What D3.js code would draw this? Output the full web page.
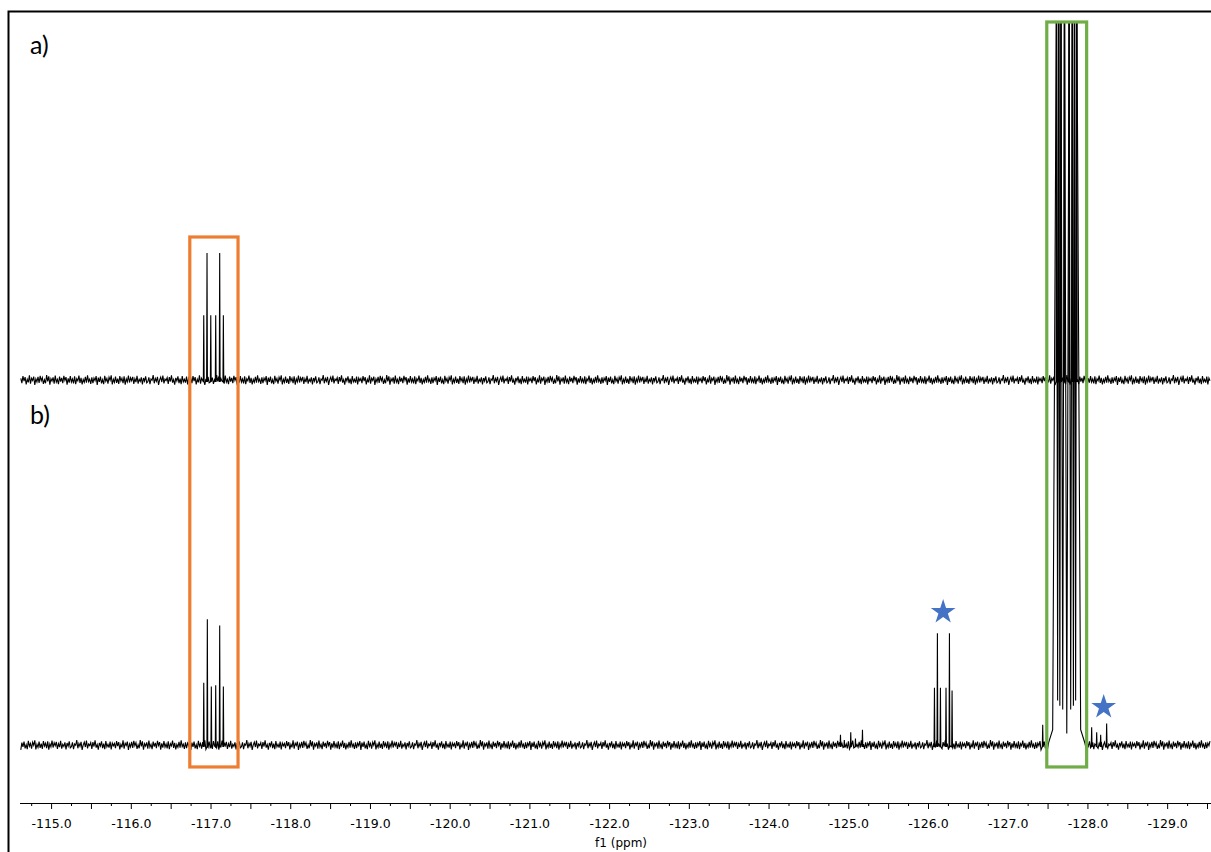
<!DOCTYPE html>
<html lang="en">
  <meta charset="utf-8">
  <style>
    body { margin: 0; background: #fff; }
    svg { display: block; }
  </style>
  <body>
    <svg width="1211" height="852"></svg>

    <script src="https://d3js.org/d3.v7.min.js"></script>
    <script>
    // 19F spectra, ppm axis
    const majorTicks = [-115, -116, -117, -118, -119, -120, -121, -122, -123, -124, -125, -126, -127, -128, -129]

    // trace a) peaks [ppm, intensity]
    const peaksA = [
      [-116.915, 51], [-116.956, 100], [-117.003, 51], [-117.065, 51], [-117.115, 100], [-117.161, 51],
      [-127.612, 600], [-127.640, 600], [-127.668, 600], [-127.712, 600],
      [-127.770, 600], [-127.810, 600], [-127.838, 600], [-127.866, 600]
    ]
    // trace b) peaks
    const peaksB = [
      [-116.915, 49], [-116.960, 99], [-117.010, 46], [-117.065, 47], [-117.115, 94], [-117.161, 46],
      [-124.902, 8], [-124.95, 4], [-125.031, 10], [-125.09, 5], [-125.178, 12],
      [-126.081, 45], [-126.118, 88], [-126.156, 45], [-126.226, 45], [-126.269, 88], [-126.302, 43],
      [-127.439, 16],
      [-128.053, 14], [-128.116, 10], [-128.166, 8], [-128.241, 17]
    ]
    // broad multiplet in b) (lines + the raised ground between them)
    const multipletB = [
      [-127.514, 2], [-127.564, 12], [-127.612, 600], [-127.626, 35], [-127.640, 600], [-127.654, 31],
      [-127.668, 600], [-127.690, 28], [-127.712, 600], [-127.741, 9], [-127.770, 600], [-127.790, 28],
      [-127.810, 600], [-127.824, 31], [-127.838, 600], [-127.852, 35], [-127.866, 600],
      [-127.915, 12], [-127.966, 2]
    ]
    // baseline noise
    const noise = [1.2,-2.5,3.1,-0.8,2.2,-3.4,0.6,-1.9,3.6,-2.8,1.4,-0.3,2.7,-3.9,0.9,-1.5,2.4,-2.2,3.3,-0.6,
      1.8,-3.1,0.2,-2.6,3.8,-1.1,2.9,-3.6,1.1,-0.9,2.1,-2.9,3.5,-1.7,0.5,-3.3,2.6,-1.3,1.6,-2.4,
      3.2,-0.4,2.3,-3.7,1.3,-2.0,3.0,-1.6,0.8,-2.7,2.8,-3.2,1.0,-0.7,3.4,-2.3,1.7,-3.5,0.4,-1.8,
      2.5,-2.1,3.7,-1.2,0.7,-3.0,2.0,-2.5,1.5,-0.5,3.1,-3.8,1.9,-1.4,2.6,-2.6,0.3,-3.3,3.3,-1.0,
      1.2,-2.8,2.2,-0.2,3.6,-3.4,0.6,-1.9,2.7,-2.2,1.1,-3.1,3.0,-0.8,1.4,-2.4,2.9,-3.6,0.9,-1.5,
      3.5,-2.0,1.8,-0.6,2.4,-3.0,1.0,-1.7,3.2,-2.9,0.5,-1.1,2.1,-3.5,1.6,-0.9,2.8,-2.3,
      -1.4,2.0,-3.2,0.8,-0.2,3.9,-2.6,1.3,-1.0,2.5,-3.9,0.1,2.3,-1.6,3.4,-2.7,0.7,-0.4,1.9,-3.0,
      2.2,-1.2,3.6,-2.1,0.4,-3.6,1.7,-0.8,2.9,-2.4,1.0,-3.3,3.0,-1.5,0.6,-2.0,2.6,-3.4,1.5,-0.6]

    // highlight boxes: ppm range, top (trace a units), bottom (trace b units)
    const boxes = [
      { from: -116.74, to: -117.345, top: 112.6, bottom: -17.3, color: '#ED7D31' },
      { from: -127.49, to: -127.99, top: 281.9, bottom: -17.3, color: '#70AD47' }
    ]
    // stars in b): [ppm, intensity]
    const stars = [[-126.19, 105.5], [-128.204, 30.7]]

    let svg = d3.select('svg')

    let x = d3.scaleLinear()
              .domain([-114.61, -129.55])
              .range([20, 1211])
    let yA = d3.scaleLinear().domain([0, 100]).range([380, 253])
    let yB = d3.scaleLinear().domain([0, 100]).range([745, 618])

    // frame
    svg.append('path')
       .attr('d', 'M8.5,852V11.5H1211')
       .attr('fill', 'none')
       .attr('stroke', '#000')
       .attr('stroke-width', 2)

    svg.append('defs').append('clipPath').attr('id', 'plot')
       .append('rect').attr('x', 20).attr('y', 23).attr('width', 1191).attr('height', 777)

    // build a trace from noise + spikes
    function trace(peaks, extra, offset) {
      let pts = []
      let skip = peaks.concat(extra)
      for (let i = 0; ; i++) {
        let p = -114.62 - i * 0.0135
        if (p < -129.55) break
        if (skip.some(d => Math.abs(d[0] - p) < 0.008)) continue
        if (extra.length && p < extra[0][0] && p > extra[extra.length - 1][0]) continue
        pts.push([p, noise[(i + offset) % noise.length]])
      }
      peaks.forEach(d => {
        pts.push([d[0] + 0.005, -1.5], [d[0], d[1]], [d[0] - 0.005, -1.5])
      })
      extra.forEach(d => pts.push(d))
      return pts.sort((a, b) => b[0] - a[0])
    }

    let dataA = trace(peaksA, [], 0)
    let dataB = trace(peaksB, multipletB, 71)

    let g = svg.append('g').attr('clip-path', 'url(#plot)')
    g.append('path')
       .datum(dataA)
       .attr('d', d3.line().x(d => x(d[0])).y(d => yA(d[1])))
       .attr('fill', 'none').attr('stroke', '#000').attr('stroke-width', 1.1)
    g.append('path')
       .datum(dataB)
       .attr('d', d3.line().x(d => x(d[0])).y(d => yB(d[1])))
       .attr('fill', 'none').attr('stroke', '#000').attr('stroke-width', 1.1)

    // boxes
    svg.append('g').selectAll('rect')
       .data(boxes).enter()
       .append('rect')
       .attr('x', d => x(d.from))
       .attr('y', d => yA(d.top))
       .attr('width', d => x(d.to) - x(d.from))
       .attr('height', d => yB(d.bottom) - yA(d.top))
       .attr('fill', 'none')
       .attr('stroke', d => d.color)
       .attr('stroke-width', 3.2)

    // stars
    svg.append('g').selectAll('path')
       .data(stars).enter()
       .append('path')
       .attr('d', d3.symbol().type(d3.symbolStar).size(190))
       .attr('transform', d => `translate(${x(d[0])},${yB(d[1]) + 1})`)
       .attr('fill', '#4472C4')

    // panel labels
    svg.append('text').attr('x', 30).attr('y', 54).text('a)')
       .attr('font-family', 'Lato, "Open Sans", sans-serif').attr('font-size', 25)
    svg.append('text').attr('x', 30).attr('y', 424).text('b)')
       .attr('font-family', 'Lato, "Open Sans", sans-serif').attr('font-size', 25)

    // axis: minor ticks every 0.25, longer every 0.5, labels every 1
    let minor = d3.range(-114.75, -129.6, -0.25).filter(v => Math.abs(v * 2 - Math.round(v * 2)) > 0.01)
    let half = d3.range(-115, -129.6, -0.5)
    let axisG = svg.append('g').attr('transform', 'translate(0,803)')
    axisG.call(d3.axisBottom(x).tickValues(minor).tickSize(3).tickSizeOuter(0).tickFormat(''))
    axisG.select('.domain').attr('d', 'M20,0.5H1211')
    axisG.append('g').call(d3.axisBottom(x).tickValues(half).tickSize(6).tickSizeOuter(0)
       .tickFormat(v => majorTicks.includes(v) ? v.toFixed(1) : ''))
       .call(g => g.select('.domain').remove())
    axisG.selectAll('text')
       .attr('font-family', '"DejaVu Sans", sans-serif')
       .attr('font-size', 12.5)
       .attr('fill', '#000')
       .attr('dy', '1.25em')
    axisG.selectAll('line').attr('stroke', '#000')

    svg.append('text')
       .attr('x', x(-122.15)).attr('y', 847)
       .attr('text-anchor', 'middle')
       .attr('font-family', '"DejaVu Sans", sans-serif')
       .attr('font-size', 12)
       .text('f1 (ppm)')
    </script>
</body>
</html>
